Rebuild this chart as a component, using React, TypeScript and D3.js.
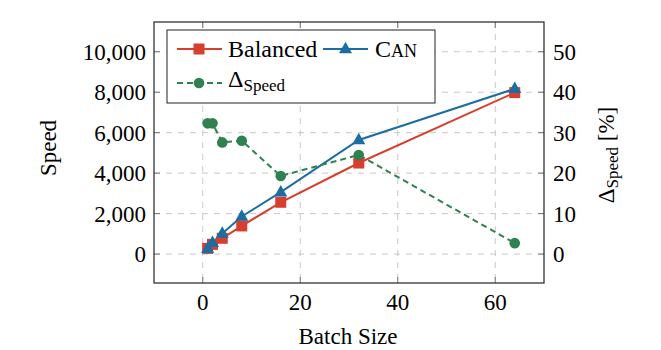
import React from "react";
import * as d3 from "d3";

const batchSizes = [1, 2, 4, 8, 16, 32, 64];
const balancedSpeed = [280, 480, 780, 1390, 2560, 4500, 7980];
const canSpeed = [260, 560, 1020, 1860, 3060, 5640, 8170];
const deltaSpeed = [32.3, 32.3, 27.6, 28.0, 19.3, 24.5, 2.7];
const xTicks = [0, 20, 40, 60];
const yTicks = [0, 2000, 4000, 6000, 8000, 10000];
const y2Ticks = [0, 10, 20, 30, 40, 50];

const RED = "#d63f2f";
const BLUE = "#1b6ea1";
const GREEN = "#2f8150";
const FONT = "Liberation Serif";

if (typeof document !== "undefined") {
  document.body.style.margin = "0";
  document.body.style.fontFamily = "'Liberation Serif', serif";
}

export default function App() {
  const W = 661, H = 350;
  const L = 154, R = 544, T = 22, B = 283;
  const x = d3.scaleLinear().domain([-10, 70]).range([L, R]);
  const y = d3.scaleLinear().domain([-1430, 11470]).range([B, T]);
  const y2 = d3.scaleLinear().domain([-7.15, 57.35]).range([B, T]);

  const lineB = d3.line<number>().x((_, i) => x(batchSizes[i])).y((d) => y(d));
  const lineD = d3.line<number>().x((_, i) => x(batchSizes[i])).y((d) => y2(d));
  const fmt = d3.format(",");

  const sq = 5.5;
  const tri = (cx: number, cy: number, s: number) =>
    `M${cx},${cy - s * 1.1} L${cx + s},${cy + s * 0.65} L${cx - s},${cy + s * 0.65} Z`;
  const ts = { fontFamily: FONT };

  return (
    <svg width={W} height={H} style={{ display: "block", fontFamily: FONT }}>
      <style>{`text, tspan { font-family: "Liberation Serif" !important; }`}</style>
      {xTicks.map((t) => (
        <line key={"gx" + t} x1={x(t)} x2={x(t)} y1={T} y2={B} stroke="#c8c8c8" strokeWidth={1} strokeDasharray="6,6" />
      ))}
      {yTicks.map((t) => (
        <line key={"gy" + t} x1={L} x2={R} y1={y(t)} y2={y(t)} stroke="#c8c8c8" strokeWidth={1} strokeDasharray="6,6" />
      ))}
      {xTicks.map((t) => (
        <g key={"tx" + t}>
          <line x1={x(t)} x2={x(t)} y1={B} y2={B - 6} stroke="#777" />
          <line x1={x(t)} x2={x(t)} y1={T} y2={T + 6} stroke="#777" />
          <text x={x(t)} y={310} textAnchor="middle" fontSize={23} style={ts}>{t}</text>
        </g>
      ))}
      {yTicks.map((t) => (
        <g key={"ty" + t}>
          <line x1={L} x2={L + 6} y1={y(t)} y2={y(t)} stroke="#777" />
          <text x={146} y={y(t) + 8} textAnchor="end" fontSize={23} style={ts}>{fmt(t)}</text>
        </g>
      ))}
      {y2Ticks.map((t) => (
        <g key={"ty2" + t}>
          <line x1={R} x2={R - 6} y1={y2(t)} y2={y2(t)} stroke="#777" />
          <text x={553} y={y2(t) + 8} textAnchor="start" fontSize={23} style={ts}>{t}</text>
        </g>
      ))}
      <path d={lineB(balancedSpeed) || ""} fill="none" stroke={RED} strokeWidth={2} />
      <path d={lineB(canSpeed) || ""} fill="none" stroke={BLUE} strokeWidth={2} />
      <path d={lineD(deltaSpeed) || ""} fill="none" stroke={GREEN} strokeWidth={2} strokeDasharray="6,4" />
      {balancedSpeed.map((v, i) => (
        <rect key={"b" + i} x={x(batchSizes[i]) - sq} y={y(v) - sq} width={sq * 2} height={sq * 2} fill={RED} />
      ))}
      {canSpeed.map((v, i) => (
        <path key={"c" + i} d={tri(x(batchSizes[i]), y(v), 6.5)} fill={BLUE} />
      ))}
      {deltaSpeed.map((v, i) => (
        <circle key={"d" + i} cx={x(batchSizes[i])} cy={y2(v)} r={5.3} fill={GREEN} />
      ))}
      <rect x={L} y={T} width={R - L} height={B - T} fill="none" stroke="#222" strokeWidth={1.2} />
      <g>
        <rect x={167} y={30} width={268} height={73} fill="#fff" stroke="#222" strokeWidth={1} />
        <line x1={177} x2={222} y1={49} y2={49} stroke={RED} strokeWidth={2} />
        <rect x={199 - sq} y={49 - sq} width={sq * 2} height={sq * 2} fill={RED} />
        <text x={228} y={57} fontSize={24} style={ts}>Balanced</text>
        <line x1={323} x2={368} y1={49} y2={49} stroke={BLUE} strokeWidth={2} />
        <path d={tri(345.5, 49, 6.5)} fill={BLUE} />
        <text x={375} y={57} fontSize={24} style={ts}>C<tspan fontSize={18}>AN</tspan></text>
        <line x1={177} x2={222} y1={83} y2={83} stroke={GREEN} strokeWidth={2} strokeDasharray="6,4" />
        <circle cx={199} cy={83} r={5.3} fill={GREEN} />
        <text x={228} y={87} fontSize={24} style={ts}>Δ<tspan fontSize={17} dy={4}>Speed</tspan></text>
      </g>
      <text x={348} y={344} textAnchor="middle" fontSize={23} style={ts}>Batch Size</text>
      <text transform={`translate(56,148) rotate(-90)`} textAnchor="middle" fontSize={23} style={ts}>Speed</text>
      <text transform={`translate(614,155) rotate(-90)`} textAnchor="middle" fontSize={23} style={ts}>
        Δ<tspan fontSize={17} dy={4}>Speed</tspan><tspan dy={-4}> [%]</tspan>
      </text>
    </svg>
  );
}
